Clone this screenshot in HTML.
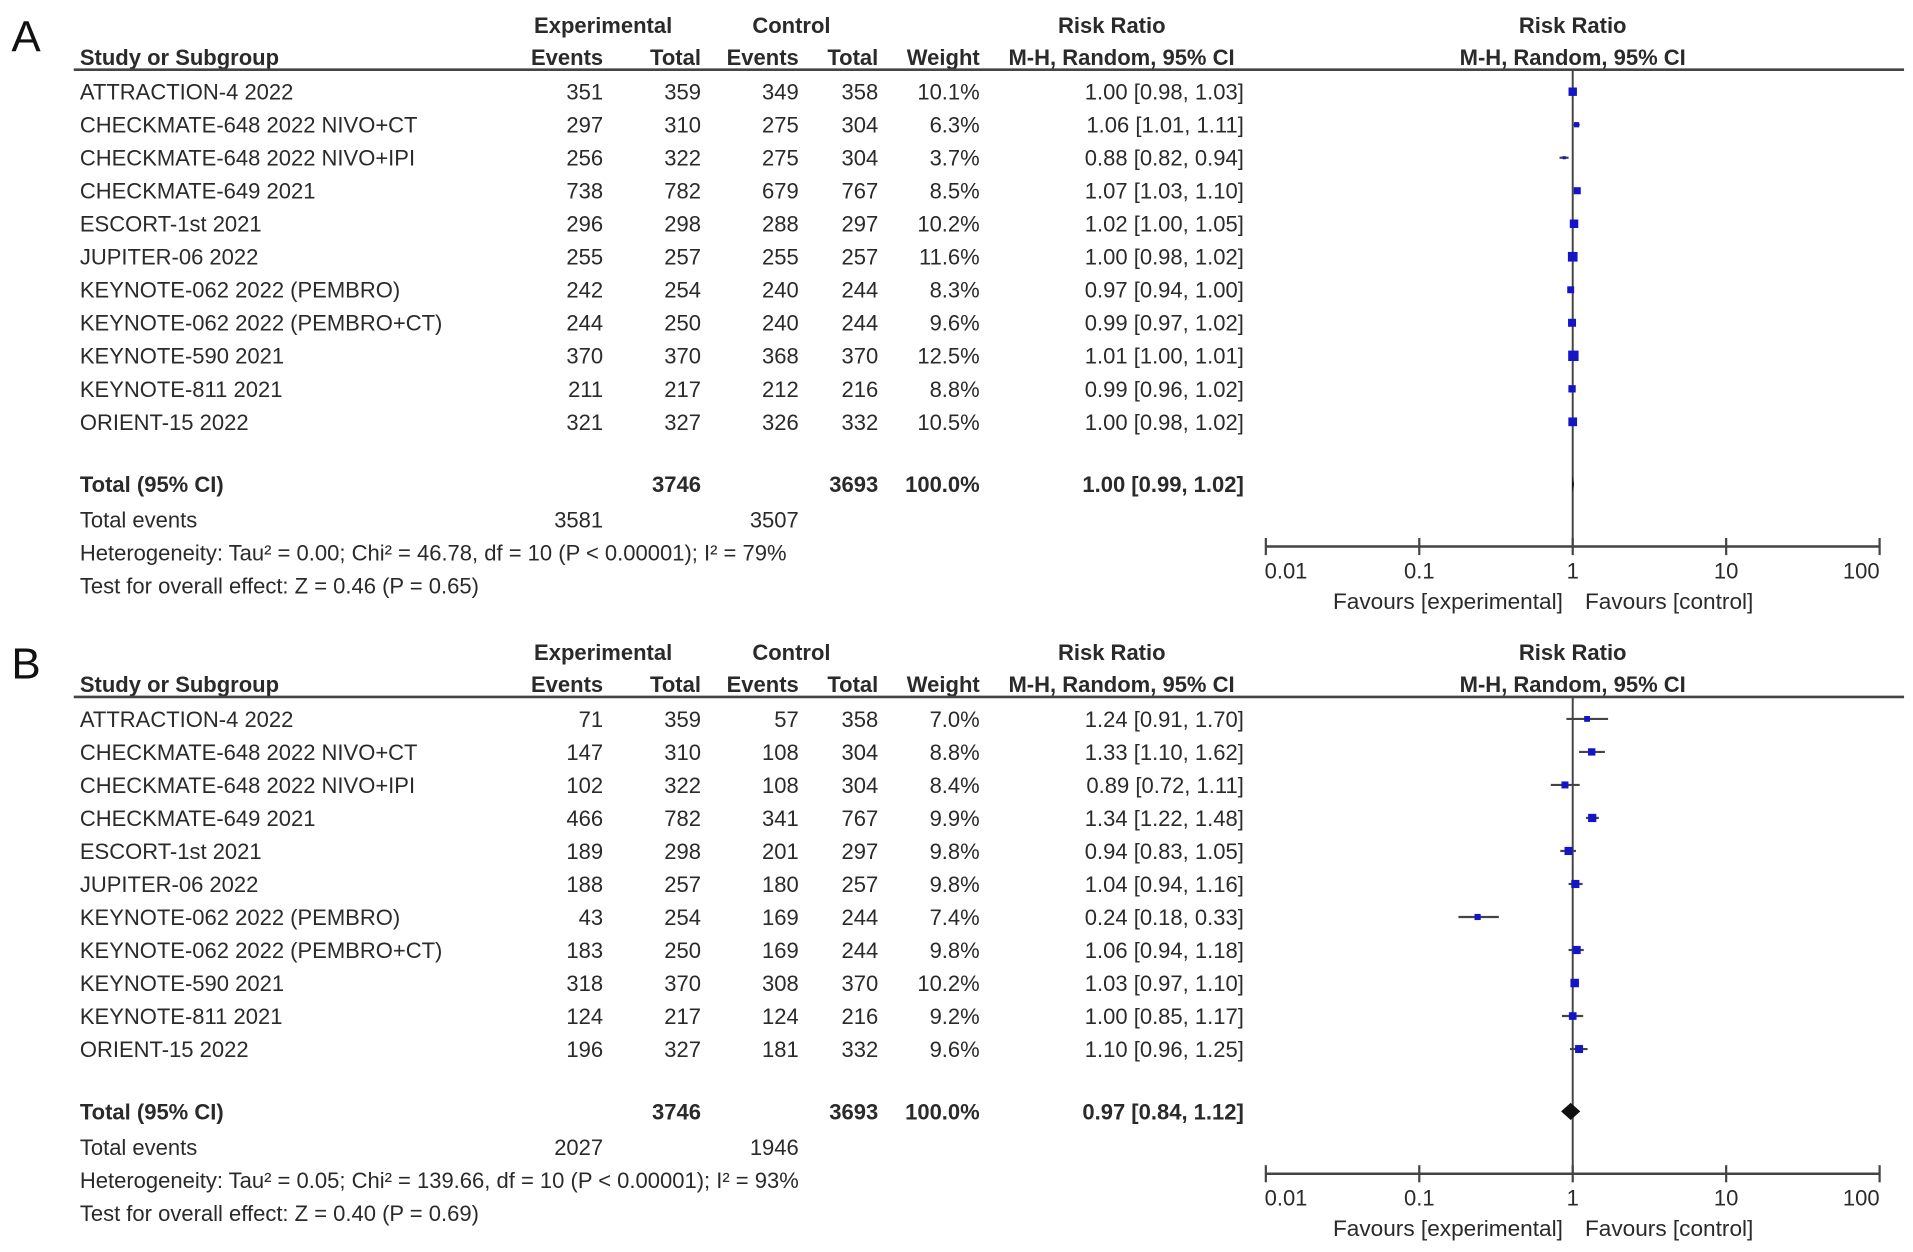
<!DOCTYPE html>
<html><head><meta charset="utf-8"><style>
html,body{margin:0;padding:0;background:#fff;}
svg{display:block;}
text{font-family:"Liberation Sans",Arial,sans-serif;font-size:18px;fill:#2a2a2a;}
.b{font-weight:bold;}
.fv{font-size:18.5px;}
</style></head><body>
<svg id="fig" width="1913" height="1252" viewBox="0 0 1564 1024" xmlns="http://www.w3.org/2000/svg"></svg>
<script>
const studies = ["ATTRACTION-4 2022","CHECKMATE-648 2022 NIVO+CT","CHECKMATE-648 2022 NIVO+IPI","CHECKMATE-649 2021","ESCORT-1st  2021","JUPITER-06 2022","KEYNOTE-062  2022 (PEMBRO)","KEYNOTE-062 2022 (PEMBRO+CT)","KEYNOTE-590 2021","KEYNOTE-811 2021","ORIENT-15 2022"];
const expTotal = [359,310,322,782,298,257,254,250,370,217,327];
const ctlTotal = [358,304,304,767,297,257,244,244,370,216,332];
// Panel A
const aExpEvents = [351,297,256,738,296,255,242,244,370,211,321];
const aCtlEvents = [349,275,275,679,288,255,240,240,368,212,326];
const aWeight = [10.1,6.3,3.7,8.5,10.2,11.6,8.3,9.6,12.5,8.8,10.5];
const aRR = [1.00,1.06,0.88,1.07,1.02,1.00,0.97,0.99,1.01,0.99,1.00];
const aLo = [0.98,1.01,0.82,1.03,1.00,0.98,0.94,0.97,1.00,0.96,0.98];
const aHi = [1.03,1.11,0.94,1.10,1.05,1.02,1.00,1.02,1.01,1.02,1.02];
const aTotal = [1.00,0.99,1.02];
const aTotEvents = [3581,3507];
const aHet = "Heterogeneity: Tau² = 0.00; Chi² = 46.78, df = 10 (P < 0.00001); I² = 79%";
const aTest = "Test for overall effect: Z = 0.46 (P = 0.65)";
// Panel B
const bExpEvents = [71,147,102,466,189,188,43,183,318,124,196];
const bCtlEvents = [57,108,108,341,201,180,169,169,308,124,181];
const bWeight = [7.0,8.8,8.4,9.9,9.8,9.8,7.4,9.8,10.2,9.2,9.6];
const bRR = [1.24,1.33,0.89,1.34,0.94,1.04,0.24,1.06,1.03,1.00,1.10];
const bLo = [0.91,1.10,0.72,1.22,0.83,0.94,0.18,0.94,0.97,0.85,0.96];
const bHi = [1.70,1.62,1.11,1.48,1.05,1.16,0.33,1.18,1.10,1.17,1.25];
const bTotal = [0.97,0.84,1.12];
const bTotEvents = [2027,1946];
const bHet = "Heterogeneity: Tau² = 0.05; Chi² = 139.66, df = 10 (P < 0.00001); I² = 93%";
const bTest = "Test for overall effect: Z = 0.40 (P = 0.69)";
const axisTicks = [0.01,0.1,1,10,100];
const axisLabels = ["0.01","0.1","1","10","100"];

const NS="http://www.w3.org/2000/svg";
const svg=document.getElementById('fig');
function el(tag,attrs,parent){const e=document.createElementNS(NS,tag);for(const k in attrs)e.setAttribute(k,attrs[k]);(parent||svg).appendChild(e);return e;}
function txt(s,x,y,anchor,cls,parent,name){const t=el('text',{x:x,y:y,'text-anchor':anchor||'start'},parent);if(cls)t.setAttribute('class',cls);t.textContent=s;


return t;}
const X0=1286, DEC=125.5;
function xs(v){return X0+DEC*Math.log10(v);}
const f2=v=>v.toFixed(2);

function panel(off,letter,ev1,ev2,w,rr,lo,hi,tot,te,het,test,pname){
  const g=el('g',{});
  
  
  const L=el('text',{x:9,y:off+42,style:'font-size:36px;fill:#111'},g);L.textContent=letter;
  
  txt("Experimental",493,off+27,'middle','b',g,'experimental-header');
  txt("Control",647,off+27,'middle','b',g,'control-header');
  txt("Risk Ratio",909,off+27,'middle','b',g,'risk-ratio-header');
  txt("Risk Ratio",1286,off+27,'middle','b',g,'risk-ratio-plot-header');
  txt("Study or Subgroup",65,off+53,'start','b',g,'study-column-header');
  txt("Events",493,off+53,'end','b',g,'exp-events-header');
  txt("Total",573,off+53,'end','b',g,'exp-total-header');
  txt("Events",653,off+53,'end','b',g,'ctl-events-header');
  txt("Total",718,off+53,'end','b',g,'ctl-total-header');
  txt("Weight",801,off+53,'end','b',g,'weight-header');
  txt("M-H, Random, 95% CI",917,off+53,'middle','b',g,'ci-header');
  txt("M-H, Random, 95% CI",1286,off+53,'middle','b',g,'plot-ci-header');
  const hl=el('line',{x1:60,x2:1557,y1:off+57,y2:off+57,stroke:'#444','stroke-width':2.2},g);
  
  const vl=el('line',{x1:xs(1),x2:xs(1),y1:off+57,y2:off+447,stroke:'#444','stroke-width':1.6},g);
  
  for(let i=0;i<studies.length;i++){
    const cy=off+75+27*i, by=cy+6.5;
    txt(studies[i],65,by,'start',null,g,'study-name');
    txt(String(ev1[i]),493,by,'end',null,g,'exp-events');
    txt(String(expTotal[i]),573,by,'end',null,g,'exp-total');
    txt(String(ev2[i]),653,by,'end',null,g,'ctl-events');
    txt(String(ctlTotal[i]),718,by,'end',null,g,'ctl-total');
    txt(w[i].toFixed(1)+"%",801,by,'end',null,g,'weight');
    txt(f2(rr[i])+" ["+f2(lo[i])+", "+f2(hi[i])+"]",1017,by,'end',null,g,'risk-ratio-ci');
    const ci=el('line',{x1:xs(lo[i]),x2:xs(hi[i]),y1:cy,y2:cy,stroke:'#444','stroke-width':1.8},g);
    
    const s=w[i]*0.68;
    const sq=el('rect',{x:xs(rr[i])-s/2,y:cy-s/2,width:s,height:s,fill:'#1515c8'},g);
    
  }
  const ty=off+396;
  txt("Total (95% CI)",65,ty+6.5,'start','b',g,'total-label');
  txt(String(expTotal.reduce((a,b)=>a+b,0)),573,ty+6.5,'end','b',g,'exp-grand-total');
  txt(String(ctlTotal.reduce((a,b)=>a+b,0)),718,ty+6.5,'end','b',g,'ctl-grand-total');
  txt("100.0%",801,ty+6.5,'end','b',g,'total-weight');
  txt(f2(tot[0])+" ["+f2(tot[1])+", "+f2(tot[2])+"]",1017,ty+6.5,'end','b',g,'total-ci');
  const d=el('polygon',{points:`${xs(tot[1])},${ty} ${xs(tot[0])},${ty-7} ${xs(tot[2])},${ty} ${xs(tot[0])},${ty+7}`,fill:'#111'},g);
  
  txt("Total events",65,off+431.5,'start',null,g,'total-events-label');
  txt(String(te[0]),493,off+431.5,'end',null,g,'exp-total-events');
  txt(String(te[1]),653,off+431.5,'end',null,g,'ctl-total-events');
  txt(het,65,off+458.5,'start',null,g,'heterogeneity');
  txt(test,65,off+485.5,'start',null,g,'overall-effect');
  const ay=off+447;
  const ax=el('line',{x1:xs(axisTicks[0]),x2:xs(axisTicks[axisTicks.length-1]),y1:ay,y2:ay,stroke:'#444','stroke-width':2},g);
  
  axisTicks.forEach((t,i)=>{
    const tk=el('line',{x1:xs(t),x2:xs(t),y1:ay-7,y2:ay+7,stroke:'#444','stroke-width':1.8},g);
    
    const anc=i===0?'start':(i===axisTicks.length-1?'end':'middle');
    txt(axisLabels[i],i===0?xs(t)-1:(i===axisTicks.length-1?xs(t):xs(t)),ay+26,anc,null,g,'x-tick-label');
  });
  txt("Favours [experimental]",1278,off+498,'end','fv',g,'favours-experimental');
  txt("Favours [control]",1296,off+498,'start','fv',g,'favours-control');
}
panel(0,"A",aExpEvents,aCtlEvents,aWeight,aRR,aLo,aHi,aTotal,aTotEvents,aHet,aTest,'panel-a');
panel(513,"B",bExpEvents,bCtlEvents,bWeight,bRR,bLo,bHi,bTotal,bTotEvents,bHet,bTest,'panel-b');
</script>
</body></html>
